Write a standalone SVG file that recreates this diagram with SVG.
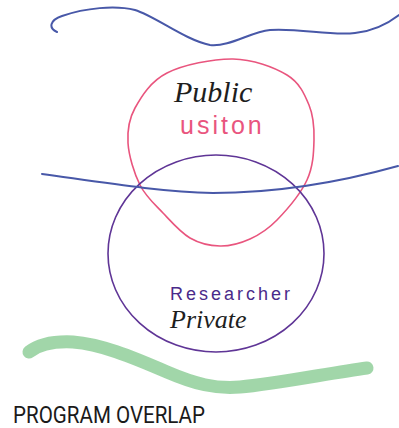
<svg xmlns="http://www.w3.org/2000/svg" width="399" height="428" viewBox="0 0 399 428">
  <style>
    .ink { fill: none; stroke-linecap: round; stroke-linejoin: round; }
    .blue { stroke: #4858a8; stroke-width: 2; }
    .pink { stroke: #e9557e; stroke-width: 1.6; }
    .purple { stroke: #5f3596; stroke-width: 1.6; }
    .marker { stroke: #97d2a0; stroke-width: 13; opacity: 0.9; }
    .hand { font-family: "Liberation Serif", "DejaVu Serif", serif; font-style: italic; fill: #1e1e1e; }
    .print { font-family: "Liberation Sans", "DejaVu Sans", sans-serif; }
    .title { font-family: "Roboto", "Liberation Sans", sans-serif; font-size: 23px; fill: #1a1a1a; }
  </style>

  <rect width="399" height="428" fill="#ffffff"/>

  <!-- wavy line across the top -->
  <path class="ink blue" d="M57,32 C48,28 50,20 62,16 C85,8 115,5 135,10 C155,16 185,40 210,45 C230,47 250,32 270,30 C300,28 330,36 355,33 C375,31 390,22 399,15"/>

  <!-- public circle -->
  <g id="public">
    <path class="ink pink" d="M128,143 C127.2,130.2 128.5,119.7 135,108 C141.5,96.3 150.7,81.2 167,73 C183.3,64.8 213,58.7 233,59 C253,59.3 274.3,67.3 287,75 C299.7,82.7 304.5,94.2 309,105 C313.5,115.8 314.3,127.5 314,140 C313.7,152.5 313.2,166.7 307,180 C300.8,193.3 286.5,210.2 277,220 C267.5,229.8 259.5,234.7 250,239 C240.5,243.3 230,246.2 220,246 C210,245.8 199.5,243.5 190,238 C180.5,232.5 171.3,221.8 163,213 C154.7,204.2 145.8,196.7 140,185 C134.2,173.3 128.8,155.8 128,143 Z"/>
    <text class="hand" x="174" y="102" font-size="30">Public</text>
    <text class="print" x="180" y="134" font-size="25" letter-spacing="3" fill="#e9557e">usiton</text>
  </g>

  <!-- researcher circle -->
  <g id="researcher">
    <ellipse class="ink purple" cx="216" cy="253.5" rx="108" ry="98.5"/>
    <text class="print" x="170" y="300" font-size="18" letter-spacing="3" fill="#4a2a8a">Researcher</text>
    <text class="hand" x="170" y="328" font-size="26">Private</text>
  </g>

  <!-- dividing line through the overlap -->
  <g id="connectors">
    <path class="ink blue" d="M42,174 C100,182 160,192 213,193 C270,193 330,185 398,166"/>
  </g>

  <!-- green marker stroke -->
  <path class="ink marker" d="M29,352 C38,345 52,341 73,342 C100,344 130,356 167,372 C195,384 215,389 240,387 C275,384 330,373 367,368"/>

  <text class="title" x="13" y="423" textLength="192" lengthAdjust="spacingAndGlyphs">PROGRAM OVERLAP</text>
</svg>
